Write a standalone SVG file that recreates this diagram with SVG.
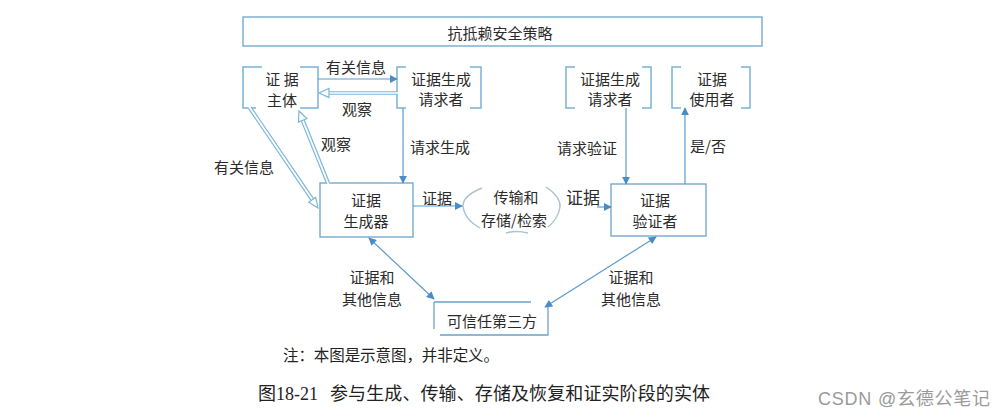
<svg xmlns="http://www.w3.org/2000/svg" width="1004" height="417" viewBox="0 0 1004 417">
<style>
.t{font-family:"Noto Sans CJK SC","Noto Sans CJK JP",sans-serif;font-size:15px;fill:#2b2b2b;text-anchor:middle;dominant-baseline:central}
.box{fill:#fff;stroke:#6aa3c8;stroke-width:1.3}
.br{fill:none;stroke:#7ab3d6;stroke-width:1.5}
.ln{fill:none;stroke:#5b9bd0;stroke-width:1.2}
.dbo{fill:none;stroke:#7db6d8;stroke-width:4.2}
.dbi{fill:none;stroke:#fff;stroke-width:1.8}
.hd{fill:#fff;stroke:#7db6d8;stroke-width:1.2}
.arc{fill:none;stroke:#a9c3d3;stroke-width:1.4}
.cap{font-family:"Liberation Serif","Noto Sans CJK SC",serif;fill:#222}
</style>
<defs>
<marker id="ah" viewBox="0 0 10 10" refX="9" refY="5" markerWidth="8" markerHeight="8" markerUnits="userSpaceOnUse" orient="auto-start-reverse">
<path d="M0,0 L10,5 L0,10 z" fill="#4a8cc6"/>
</marker>
</defs>
<rect width="1004" height="417" fill="#fff"/>

<g id="policy">
<rect class="box" x="243" y="17" width="519" height="29" stroke="#8aa4b4"/>
<text class="t" x="500" y="32">抗抵赖安全策略</text>
</g>

<g id="subject">
<path class="br" d="M262,67 H243 V108 H256 M300,67 H318 V108 H300"/>
<text class="t" x="282" y="78">证 据</text>
<text class="t" x="282" y="99">主体</text>
</g>

<g id="genreq">
<path class="br" d="M406,67 H397 V108 H406 M470,67 H481 V108 H470"/>
<text class="t" x="441" y="78">证据生成</text>
<text class="t" x="441" y="98">请求者</text>
</g>

<g id="verreq">
<path class="br" d="M575,67 H566 V108 H575 M642,67 H651 V108 H642"/>
<text class="t" x="610" y="78">证据生成</text>
<text class="t" x="610" y="98">请求者</text>
</g>

<g id="user">
<path class="br" d="M681,67 H672 V108 H681 M741,67 H750 V108 H741"/>
<text class="t" x="712" y="78">证据</text>
<text class="t" x="712" y="98">使用者</text>
</g>

<g id="generator">
<rect class="box" x="320" y="183" width="93" height="54"/>
<text class="t" x="366" y="199">证据</text>
<text class="t" x="366" y="220">生成器</text>
</g>

<g id="transfer">
<path class="arc" d="M482,188 Q462,196 463,207 Q465,220 480,228"/>
<path class="arc" d="M546,187 Q561,197 560,207 Q558,219 548,227"/>
<path class="arc" d="M506,233 Q516,230 528,233"/>
<text class="t" x="516" y="196">传输和</text>
<text class="t" x="514" y="219">存储/检索</text>
</g>

<g id="verifier">
<rect class="box" x="611" y="184" width="95" height="52"/>
<text class="t" x="655" y="199">证据</text>
<text class="t" x="655" y="220">验证者</text>
</g>

<g id="ttp">
<path class="box" d="M434,302 H531 M434,302 V329 M548,305 V335 H440" fill="none"/>
<text class="t" x="492" y="320">可信任第三方</text>
</g>

<g id="connectors">
<line class="ln" x1="318" y1="79" x2="397" y2="79" marker-end="url(#ah)"/>
<text class="t" x="356" y="66">有关信息</text>

<line class="dbo" x1="397" y1="93" x2="329" y2="93" style="stroke-width:3.6"/>
<line class="dbi" x1="398" y1="93" x2="329" y2="93" style="stroke-width:1.4"/>
<polygon class="hd" points="319,93 329,88.5 329,97.5"/>
<text class="t" x="357" y="108">观察</text>

<line class="dbo" x1="250" y1="108" x2="312.4" y2="199.7"/>
<line class="dbi" x1="249" y1="106.5" x2="312.4" y2="199.7"/>
<polygon class="hd" points="318,208 315.7,197.2 308.7,202.2"/>
<text class="t" x="244" y="166">有关信息</text>

<line class="dbo" x1="328" y1="183" x2="302.7" y2="120.3"/>
<line class="dbi" x1="328.6" y1="184.5" x2="302.7" y2="120.3"/>
<polygon class="hd" points="299,111 306.9,118.6 298.5,122"/>
<text class="t" x="336" y="143">观察</text>

<line class="ln" x1="403" y1="108" x2="403" y2="183" marker-end="url(#ah)"/>
<text class="t" x="440" y="146">请求生成</text>

<line class="ln" x1="413" y1="206" x2="462" y2="206" marker-end="url(#ah)"/>
<text class="t" x="437" y="197">证据</text>

<line class="ln" x1="597" y1="207" x2="611" y2="207" marker-end="url(#ah)"/>
<text class="t" x="583" y="196" style="font-size:17px">证据</text>

<line class="ln" x1="626" y1="108" x2="626" y2="184" marker-end="url(#ah)"/>
<text class="t" x="587" y="147">请求验证</text>

<line class="ln" x1="685" y1="184" x2="685" y2="108" marker-end="url(#ah)"/>
<text class="t" x="708" y="145">是/否</text>

<line class="ln" x1="369" y1="238" x2="434" y2="299" marker-start="url(#ah)" marker-end="url(#ah)"/>
<text class="t" x="372" y="276">证据和</text>
<text class="t" x="372" y="298">其他信息</text>

<line class="ln" x1="656" y1="237" x2="545" y2="307" marker-start="url(#ah)" marker-end="url(#ah)"/>
<text class="t" x="631" y="276">证据和</text>
<text class="t" x="631" y="298">其他信息</text>
</g>

<text class="cap" x="283" y="361" textLength="216" style="font-size:15.5px">注：本图是示意图，并非定义。</text>
<text class="cap" x="258" y="400" style="font-size:18px">图18-21</text>
<text class="cap" x="330" y="400" textLength="380" style="font-size:18px">参与生成、传输、存储及恢复和证实阶段的实体</text>
<text x="818" y="405" textLength="172" style="font-family:'Liberation Sans','Noto Sans CJK SC',sans-serif;font-size:18px;fill:#9a9a9a">CSDN @玄德公笔记</text>
</svg>
